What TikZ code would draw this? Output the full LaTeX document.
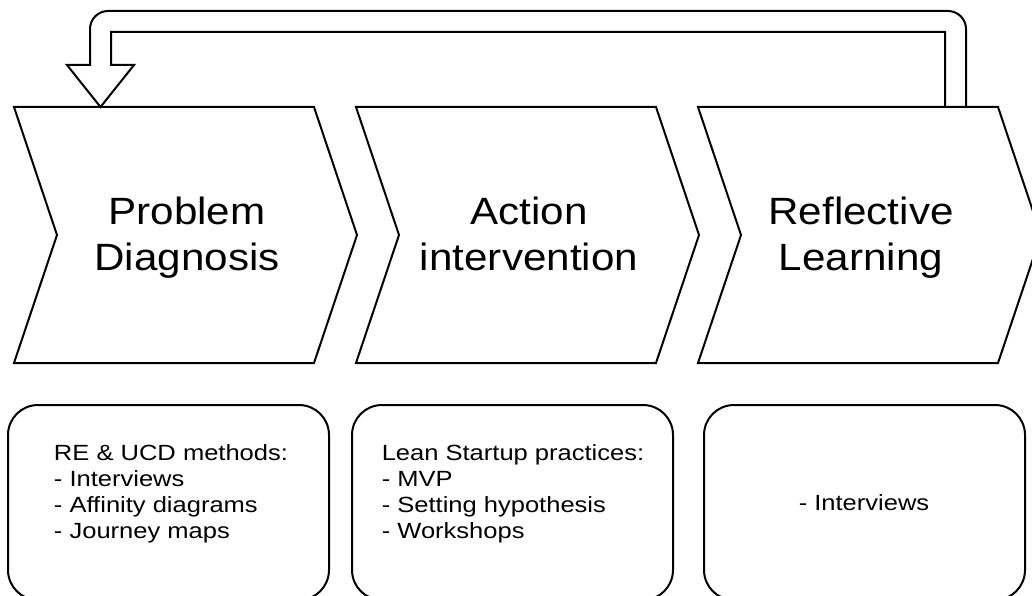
\documentclass[tikz,border=0pt]{standalone}
\usepackage{fontspec}
\setmainfont{Liberation Sans}
\begin{document}
\begin{tikzpicture}[x=1pt, y=-1pt, line width=2pt,
        phase/.style={font=\fontsize{38}{45.6}\selectfont, align=center, xscale=1.11, text depth=9pt},
        practice/.style={font=\fontsize{22}{26.2}\selectfont, align=left, xscale=1.16, text depth=5pt}]
        \useasboundingbox (0,0) rectangle (1032,596);
        \clip (0,0) rectangle (1032,596);

        % chevrons
        \foreach \x in {14,356,698}{
            \draw (\x,107) -- ++(300,0) -- ++(43,128) -- ++(-43,128) -- ++(-300,0) -- ++(43,-128) -- cycle;
        }

        % feedback arrow
        \draw (966,107) [rounded corners=18pt] -- (966,11) -- (90,11) [sharp corners] -- (90,65) -- (67,65) -- (100.5,107) -- (134,65) -- (111,65) -- (111,32) -- (945,32) -- (945,107);

        % boxes
        \foreach \x in {8,352,704}{
            \draw[rounded corners=30pt] (\x,405) rectangle ++(321,195);
        }

        \node[phase] (diagnosis) at (187,238) {Problem\\Diagnosis};
        \node[phase] (action) at (529,238) {Action\\intervention};
        \node[phase] (learning) at (861,238) {Reflective\\Learning};

        \node[practice] (methods) at (171,494) {RE \& UCD methods:\\- Interviews\\- Affinity diagrams\\- Journey maps};
        \node[practice] (lean) at (513,494) {Lean Startup practices:\\- MVP\\- Setting hypothesis\\- Workshops};
        \node[practice] (reflection) at (864,505) {- Interviews};
    \end{tikzpicture}
\end{document}
